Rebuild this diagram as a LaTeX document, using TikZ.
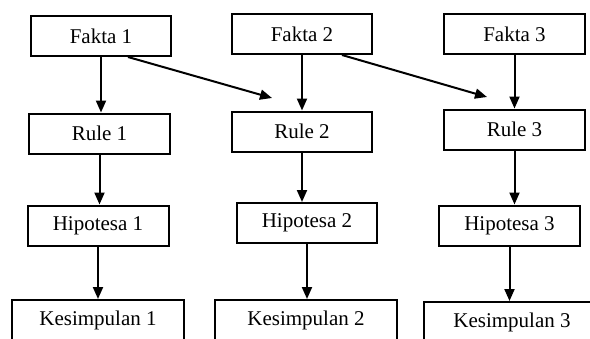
\documentclass[tikz,border=0pt]{standalone}
\usepackage{fontspec}
\setmainfont{Liberation Serif}
\usetikzlibrary{arrows.meta}
\begin{document}
\begin{tikzpicture}[x=1pt,y=-1pt,>={Triangle[length=12pt,width=10pt]},line width=2pt]
\tikzset{kotak/.style={draw,rectangle,minimum height=40pt,inner sep=0pt,font=\fontsize{21}{25}\selectfont}}
\useasboundingbox (0,0) rectangle (590,338);
\clip (0,0) rectangle (590,338);
% fakta
\node[kotak,minimum width=140pt] (f1) at (101,36) {Fakta 1};
\node[kotak,minimum width=140pt] (f2) at (302,34) {Fakta 2};
\node[kotak,minimum width=141pt] (f3) at (514.5,34) {Fakta 3};
% rule
\node[kotak,minimum width=141pt] (r1) at (99.5,133.5) {Rule 1};
\node[kotak,minimum width=140pt] (r2) at (302,131.5) {Rule 2};
\node[kotak,minimum width=141pt] (r3) at (514.5,129.5) {Rule 3};
% hipotesa
\node[kotak,minimum width=141pt] (h1) at (98,225.5) {Hipotesa 1};
\node[kotak,minimum width=140pt] (h2) at (307,223) {Hipotesa 2};
\node[kotak,minimum width=141pt] (h3) at (509.5,225.5) {Hipotesa 3};
% kesimpulan
\node[kotak,minimum width=172pt] (k1) at (98,320) {Kesimpulan 1};
\node[kotak,minimum width=182pt] (k2) at (306,320) {Kesimpulan 2};
\node[kotak,minimum width=177pt] (k3) at (512,322) {Kesimpulan 3};
\foreach \k in {1,2,3}{
	\draw[->] (f\k) -- (f\k |- r\k.north);
	\draw[->] (r\k) -- (r\k |- h\k.north);
	\draw[->] (h\k) -- (h\k |- k\k.north);
}
\coordinate (u2) at (272,98);
\coordinate (u3) at (487,97);
\draw[->] ([xshift=27pt]f1.south) -- (u2);
\draw[->] ([xshift=40pt]f2.south) -- (u3);
\end{tikzpicture}
\end{document}
